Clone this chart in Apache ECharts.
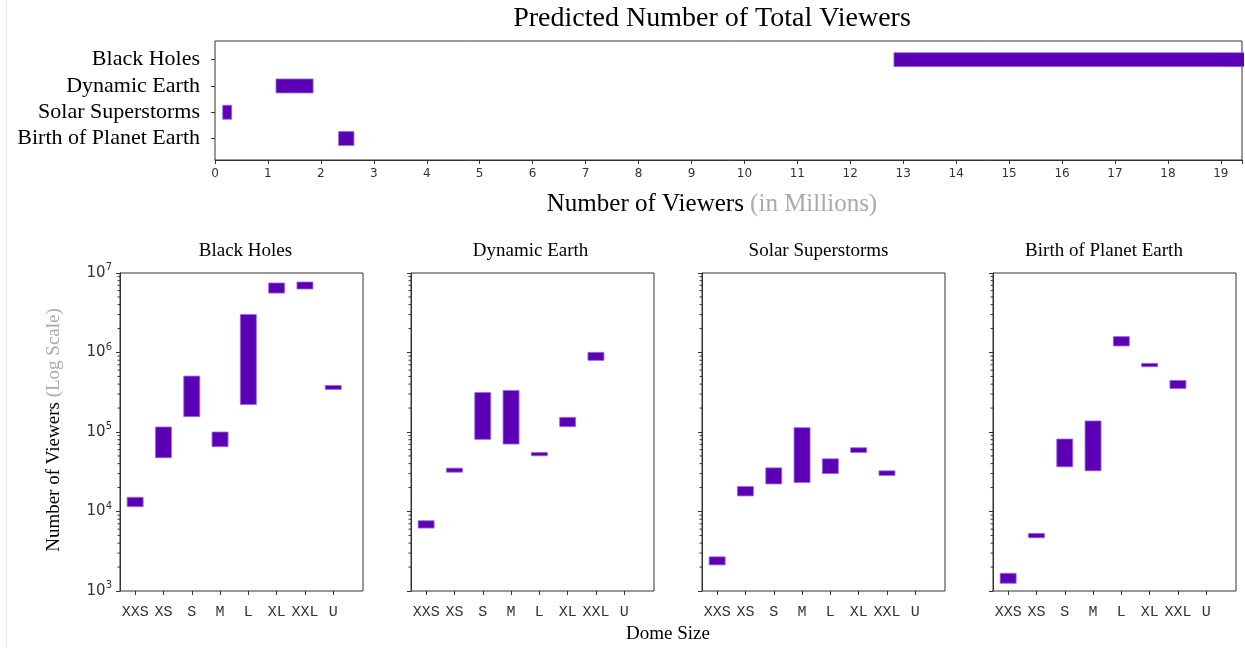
<!DOCTYPE html>
<html>
<head>
<meta charset="utf-8">
<script src="https://cdn.jsdelivr.net/npm/echarts@6/dist/echarts.min.js"></script>
<style>
  html, body { margin: 0; padding: 0; background: #fff; }
  #chart { width: 1245px; height: 648px; }
</style>
</head>
<body>
<div id="chart"></div>
<script>
// shows and dome sizes
const shows = ['Black Holes', 'Dynamic Earth', 'Solar Superstorms', 'Birth of Planet Earth'];
const domeSizes = ['XXS', 'XS', 'S', 'M', 'L', 'XL', 'XXL', 'U'];

// total viewers, in millions (low / high)
const totalLow = [12.8, 1.15, 0.145, 2.33];
const totalHigh = [19.6, 1.85, 0.315, 2.62];

// viewers per dome size (low / high), null = no dome
const blackHolesLow = [11500, 47400, 156000, 65300, 221000, 5590000, 6290000, 343000];
const blackHolesHigh = [15100, 115600, 505000, 100000, 3010000, 7490000, 7700000, 385000];
const dynamicEarthLow = [6190, 31200, 80800, 70500, 50200, 116700, 796000, null];
const dynamicEarthHigh = [7660, 35100, 314000, 333000, 55300, 153000, 1004000, null];
const solarLow = [2130, 15700, 22200, 23100, 30000, 55300, 28400, null];
const solarHigh = [2690, 20600, 35400, 113500, 46000, 63400, 32500, null];
const birthLow = [1250, 4670, 36500, 32500, 1208000, 662000, 352000, null];
const birthHigh = [1670, 5300, 81600, 137700, 1585000, 730000, 445000, null];

const panelLows = [blackHolesLow, dynamicEarthLow, solarLow, birthLow];
const panelHighs = [blackHolesHigh, dynamicEarthHigh, solarHigh, birthHigh];

const PURPLE = '#5b00b5';
const EDGE = '#9a6be0';
const AXIS = '#333';
const SERIF = 'Liberation Serif';

const chart = echarts.init(document.getElementById('chart'));

// minor log ticks (2..9 x 10^n)
const minorTicks = [];
for (let e = 3; e < 7; e++) {
  for (let m = 2; m <= 9; m++) minorTicks.push(m * Math.pow(10, e));
}

const grid = [];
const xAxis = [];
const yAxis = [];
const series = [];

// --- top panel: frame + x axis
grid.push({ left: 215, top: 41, width: 1029, height: 119, show: true, borderColor: AXIS, borderWidth: 1 });
xAxis.push({
  gridIndex: 0, type: 'value', min: 0, max: 19.4, interval: 1,
  splitLine: { show: false },
  axisLine: { show: true, lineStyle: { color: AXIS } },
  axisTick: { show: true, length: 4, lineStyle: { color: AXIS } },
  axisLabel: {
    color: '#333', fontFamily: 'DejaVu Sans', fontSize: 12, margin: 8,
    formatter: v => (Number.isInteger(v) ? String(v) : '')
  }
});
yAxis.push({ gridIndex: 0, type: 'value', show: false });

// --- top panel: category band area
grid.push({ left: 215, top: 46.5, width: 1029, height: 105.2 });
xAxis.push({ gridIndex: 1, type: 'value', min: 0, max: 19.4, show: false });
yAxis.push({
  gridIndex: 1, type: 'category', data: shows, inverse: true,
  axisLine: { show: false },
  axisTick: { show: true, interval: 0, alignWithLabel: true, length: 4, lineStyle: { color: AXIS } },
  axisLabel: { interval: 0, color: '#000', fontFamily: SERIF, fontSize: 22, margin: 15 }
});
series.push({
  type: 'custom', xAxisIndex: 1, yAxisIndex: 1, clip: true, silent: true,
  encode: { x: [1, 2], y: 0 },
  data: shows.map((s, i) => [i, totalLow[i], totalHigh[i]]),
  renderItem: (params, api) => {
    const a = api.coord([api.value(1), api.value(0)]);
    const b = api.coord([api.value(2), api.value(0)]);
    const h = 14;
    return {
      type: 'rect',
      shape: { x: a[0], y: a[1] - h / 2, width: b[0] - a[0], height: h },
      style: { fill: PURPLE, stroke: EDGE, lineWidth: 0.8 }
    };
  }
});

// --- bottom panels
const frameLefts = [120, 411, 702, 993];
const titleCenters = [245.5, 530.5, 818.5, 1104];
const frameW = 243;
const frameTop = 273;
const frameH = 318;
const band = 28.3;

frameLefts.forEach((left, i) => {
  const gFrame = grid.length;
  grid.push({ left: left, top: frameTop, width: frameW, height: frameH, show: true, borderColor: AXIS, borderWidth: 1 });
  xAxis.push({ gridIndex: gFrame, type: 'value', min: 0, max: 1, show: false });
  yAxis.push({
    gridIndex: gFrame, type: 'log', logBase: 10, min: 1000, max: 10000000,
    splitLine: { show: false },
    axisLine: { show: true, lineStyle: { color: AXIS } },
    axisTick: { show: true, length: 4, lineStyle: { color: AXIS } },
    axisLabel: {
      show: i === 0, margin: 8, color: '#333', fontFamily: 'DejaVu Sans', fontSize: 15,
      formatter: v => '10{e|' + Math.round(Math.log10(v)) + '}',
      rich: { e: { fontSize: 10, fontFamily: 'DejaVu Sans', color: '#333', padding: [0, 0, 11, 0] } }
    }
  });
  series.push({
    type: 'custom', xAxisIndex: gFrame, yAxisIndex: gFrame, clip: false, silent: true,
    data: minorTicks.map(v => [0, v]),
    renderItem: (params, api) => {
      const p = api.coord([0, api.value(1)]);
      return {
        type: 'line',
        shape: { x1: p[0] - 2.5, y1: p[1], x2: p[0], y2: p[1] },
        style: { stroke: AXIS, lineWidth: 1 }
      };
    }
  });

  const gCat = grid.length;
  grid.push({ left: left + 1, top: frameTop, width: band * domeSizes.length, height: frameH });
  xAxis.push({
    gridIndex: gCat, type: 'category', data: domeSizes,
    axisLine: { show: false },
    axisTick: { show: true, interval: 0, alignWithLabel: true, length: 4, lineStyle: { color: AXIS } },
    axisLabel: { interval: 0, color: '#333', fontFamily: 'Liberation Mono', fontSize: 15, margin: 14 }
  });
  yAxis.push({ gridIndex: gCat, type: 'log', logBase: 10, min: 1000, max: 10000000, show: false });

  const lows = panelLows[i];
  const highs = panelHighs[i];
  const data = [];
  domeSizes.forEach((d, k) => {
    if (lows[k] != null) data.push([k, lows[k], highs[k]]);
  });
  series.push({
    type: 'custom', xAxisIndex: gCat, yAxisIndex: gCat, clip: true, silent: true,
    encode: { x: 0, y: [1, 2] },
    data: data,
    renderItem: (params, api) => {
      const lo = api.coord([api.value(0), api.value(1)]);
      const hi = api.coord([api.value(0), api.value(2)]);
      const w = 16;
      return {
        type: 'rect',
        shape: { x: lo[0] - w / 2, y: hi[1], width: w, height: lo[1] - hi[1] },
        style: { fill: PURPLE, stroke: EDGE, lineWidth: 0.8 }
      };
    }
  });
});

// figure level texts
const graphic = [
  { type: 'line', shape: { x1: 6.5, y1: 0, x2: 6.5, y2: 648 }, style: { stroke: '#e8e8e8', lineWidth: 1 } },
  {
    type: 'text', x: 712, y: 19,
    style: { text: 'Predicted Number of Total Viewers', font: '28px "Liberation Serif"', fill: '#000', align: 'center', verticalAlign: 'middle' }
  },
  {
    type: 'text', x: 712, y: 204,
    style: {
      text: '{a|Number of Viewers }{b|(in Millions)}', align: 'center', verticalAlign: 'middle',
      rich: {
        a: { fontFamily: SERIF, fontSize: 25, fill: '#000', color: '#000' },
        b: { fontFamily: SERIF, fontSize: 25, fill: '#aaa', color: '#aaa' }
      }
    }
  },
  {
    type: 'text', x: 54, y: 430, rotation: Math.PI / 2,
    style: {
      text: '{a|Number of Viewers }{b|(Log Scale)}', align: 'center', verticalAlign: 'middle',
      rich: {
        a: { fontFamily: SERIF, fontSize: 19, fill: '#000', color: '#000' },
        b: { fontFamily: SERIF, fontSize: 19, fill: '#aaa', color: '#aaa' }
      }
    }
  },
  {
    type: 'text', x: 668, y: 634,
    style: { text: 'Dome Size', font: '19px "Liberation Serif"', fill: '#000', align: 'center', verticalAlign: 'middle' }
  }
];
shows.forEach((s, i) => {
  graphic.push({
    type: 'text', x: titleCenters[i], y: 251,
    style: { text: s, font: '19px "Liberation Serif"', fill: '#000', align: 'center', verticalAlign: 'middle' }
  });
});

chart.setOption({
  animation: false,
  backgroundColor: '#fff',
  grid: grid,
  xAxis: xAxis,
  yAxis: yAxis,
  series: series,
  graphic: graphic
});
</script>
</body>
</html>
